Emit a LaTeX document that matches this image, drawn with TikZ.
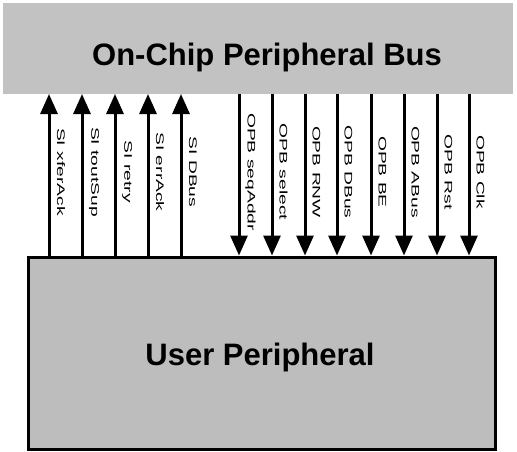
\documentclass[tikz,border=0pt]{standalone}
\usepackage{fontspec}
\setmainfont{Liberation Sans}
\usetikzlibrary{arrows.meta}
\begin{document}
\begin{tikzpicture}[x=1pt,y=-1pt,
  busbox/.style={fill=black!24,draw=none,inner sep=0pt,outer sep=0pt,minimum width=510pt,minimum height=91pt},
  userbox/.style={fill=black!26,draw=black,line width=3pt,inner sep=0pt,minimum width=467pt,minimum height=192pt},
  bigtext/.style={font=\fontsize{31}{31}\selectfont\bfseries,inner sep=0pt},
  sig/.style={line width=3pt,-{Triangle[width=17pt,length=20pt]}},
  siglabel/.style={rotate=-90,inner sep=0pt,font=\fontsize{11}{11}\selectfont}
]
\useasboundingbox (0,0) rectangle (517,451);
\node[busbox] (bus) at (258,48.5) {};
\node[bigtext,anchor=base] (bustitle) at (267,65) {On-Chip Peripheral Bus};
\node[userbox] (box) at (261.5,353) {};
\node[bigtext,anchor=base] (boxtitle) at (260,365) {User Peripheral};
% slave outputs (upward)
\foreach \x/\n/\t in {49/u1/SI xferAck,82/u2/SI toutSup,115/u3/SI retry,148/u4/SI errAck,181/u5/SI DBus}{
  \coordinate (\n) at (\x,172);
  \draw[sig] (box.north -| \n) -- (bus.south -| \n);
  \node[siglabel] (\n l) at (\x+12,172) {\scalebox{1.75}[1]{\t}};
}
% bus outputs (downward)
\foreach \x/\n/\t in {239/d1/OPB seqAddr,272/d2/OPB select,305/d3/OPB RNW,337/d4/OPB DBus,371/d5/OPB BE,404/d6/OPB ABus,437/d7/OPB Rst,469/d8/OPB Clk}{
  \coordinate (\n) at (\x,172);
  \draw[sig] (bus.south -| \n) -- (box.north -| \n);
  \node[siglabel] (\n l) at (\x+11.5,172) {\scalebox{1.75}[1]{\t}};
}
\end{tikzpicture}
\end{document}
